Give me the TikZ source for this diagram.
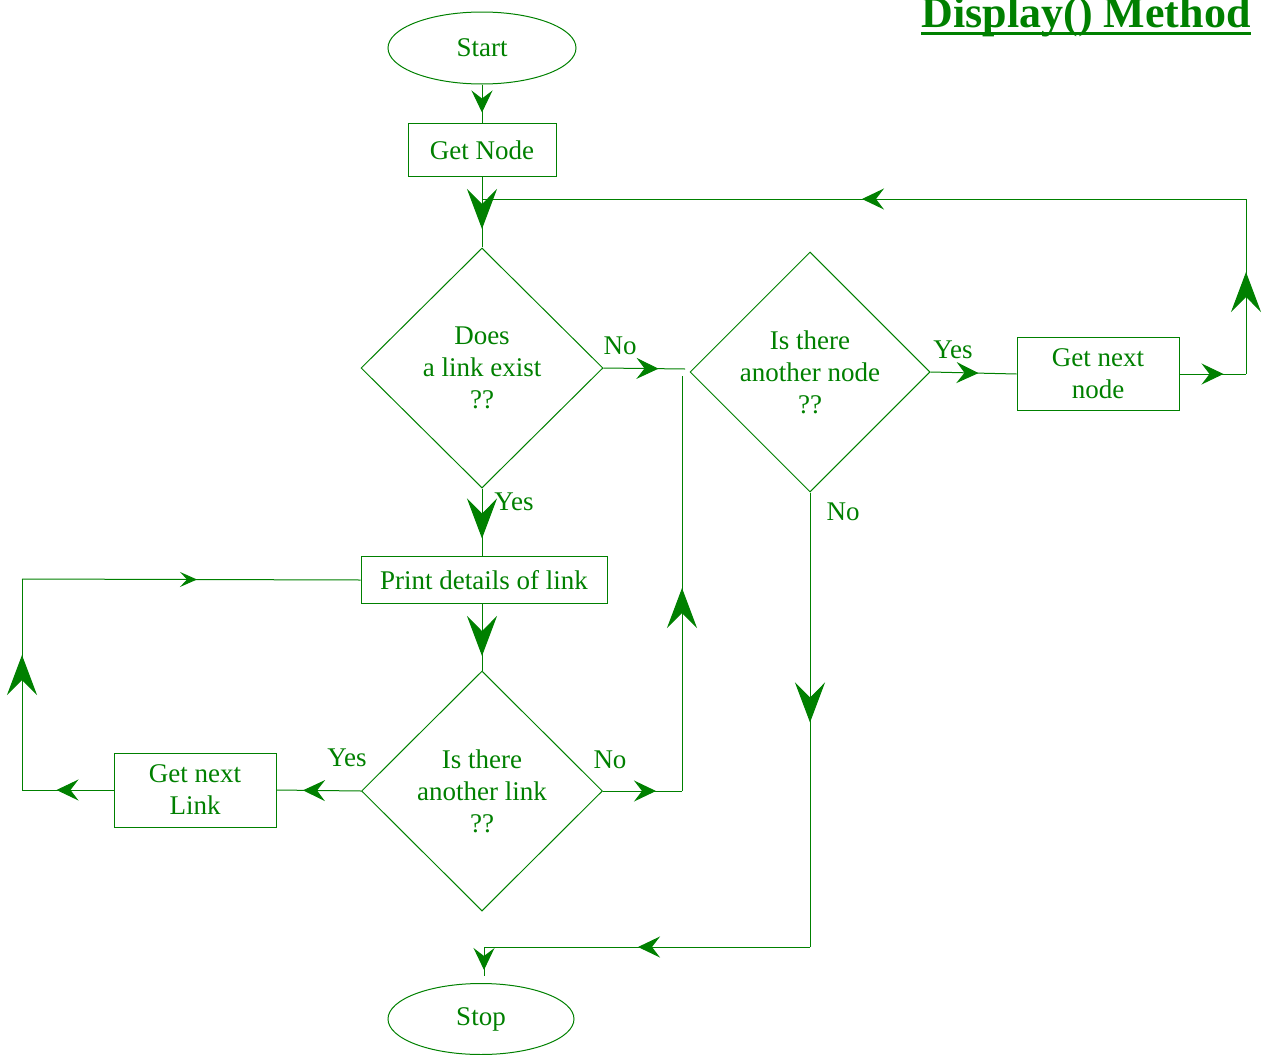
\documentclass[tikz,border=0pt]{standalone}
\usepackage{fontspec}
\setmainfont{Liberation Serif}
\usetikzlibrary{shapes.geometric,arrows.meta,decorations.markings}
\definecolor{flow}{RGB}{0,128,0}
\tikzset{
  bigtip/.tip={Stealth[length=40pt,width=30pt,inset=15pt]},
  midtip/.tip={Stealth[length=22pt,width=21pt,inset=8pt]},
  thintip/.tip={Stealth[length=17pt,width=15pt,inset=7pt]},
  arrowat/.style 2 args={postaction={decorate},
    decoration={markings,mark=at position #1 with {\arrow{#2}}}},
  box/.style={draw,rectangle,inner sep=0pt,align=center},
  oval/.style={draw,ellipse,inner sep=0pt},
  decision/.style={draw,diamond,inner sep=0pt,align=center},
  lbl/.style={inner sep=0pt},
}
\begin{document}
\begin{tikzpicture}[x=1pt,y=-1pt,color=flow,line width=1pt,
  font=\fontsize{27}{32}\selectfont]
\useasboundingbox (0,0) rectangle (1262,1055);

% heading
\node[lbl,anchor=base east,font=\fontsize{44}{50}\selectfont\bfseries]
  (title) at (1251,27) {Display() Method};
\draw[line width=2.5pt] ([yshift=-6.5pt]title.base west) -- ([yshift=-6.5pt]title.base east);

% blocks
\node[oval,minimum width=188pt,minimum height=72pt] (start) at (482,48) {Start};
\node[box,minimum width=148pt,minimum height=53pt] (getnode) at (482,150) {Get Node};
\node[decision,minimum width=242pt,minimum height=240pt] (d1) at (482,368) {Does\\a link exist\\??};
\node[decision,minimum width=240pt,minimum height=240pt] (d2) at (810,372) {Is there\\another node\\??};
\node[box,minimum width=162pt,minimum height=73pt] (gnn) at (1098,374) {Get next\\node};
\node[box,minimum width=246pt,minimum height=47pt] (print) at (484,580) {Print details of link};
\node[decision,minimum width=241pt,minimum height=240pt] (d3) at (482,791) {Is there\\another link\\??};
\node[box,minimum width=162pt,minimum height=74pt] (gnl) at (195,790) {Get next\\Link};
\node[oval,minimum width=186pt,minimum height=71pt] (stop) at (481,1019) {Stop};

% branch labels
\node[lbl] (no1) at (620,346) {No};
\node[lbl] (yes2) at (953,350) {Yes};
\node[lbl] (no2) at (843,512) {No};
\node[lbl] (yes1) at (514,502) {Yes};
\node[lbl] (yes3) at (347,758) {Yes};
\node[lbl] (no3) at (610,760) {No};

% corners of the connector routes
\coordinate (jtop) at (482,199);
\coordinate (rtop) at (1246,199);
\coordinate (rmid) at (1246,374);
\coordinate (noend) at (685,369);
\coordinate (vtop) at (682,376);
\coordinate (rbot) at (682,791);
\coordinate (brc) at (810,947);
\coordinate (bjoin) at (484,947);
\coordinate (lbot) at (22,790);
\coordinate (ltop) at (22,579);

% main line
\draw[arrowat={28pt}{midtip}] (start) -- (getnode);
\draw[arrowat={52pt}{bigtip}] (getnode) -- (d1);
\draw[arrowat={50pt}{bigtip}] (d1.south) -- (d1.south |- print.north);
\draw[arrowat={52pt}{bigtip}] (d3.north |- print.south) -- (d3.north);

% next node loop
\draw[arrowat={55pt}{midtip}] (d1.east) -- (noend);
\draw[arrowat={48pt}{midtip}] (d2.east) -- (gnn.west);
\draw[arrowat={44pt}{midtip}] (gnn.east) -- (rmid);
\draw[arrowat={102pt}{bigtip}] (rmid) -- (rtop);
\draw[arrowat={384pt}{midtip}] (rtop) -- (jtop);

% next link loop
\draw[arrowat={58pt}{midtip}] (d3.west) -- (gnl.east);
\draw[arrowat={57pt}{midtip}] (gnl.west) -- (lbot);
\draw[arrowat={135pt}{bigtip}] (lbot) -- (ltop);
\draw[arrowat={175pt}{thintip}] (ltop) -- (print.west);

% no more links
\draw[arrowat={53pt}{midtip}] (d3.east) -- (rbot);
\draw[arrowat={203pt}{bigtip}] (rbot) -- (vtop);

% no more nodes
\draw[arrowat={230pt}{bigtip}] (d2.south) -- (brc);
\draw[arrowat={172pt}{midtip}] (brc) -- (bjoin);
\draw[arrowat={23pt}{midtip},shorten >=7pt] (bjoin) -- (bjoin |- stop.north);
\end{tikzpicture}
\end{document}
